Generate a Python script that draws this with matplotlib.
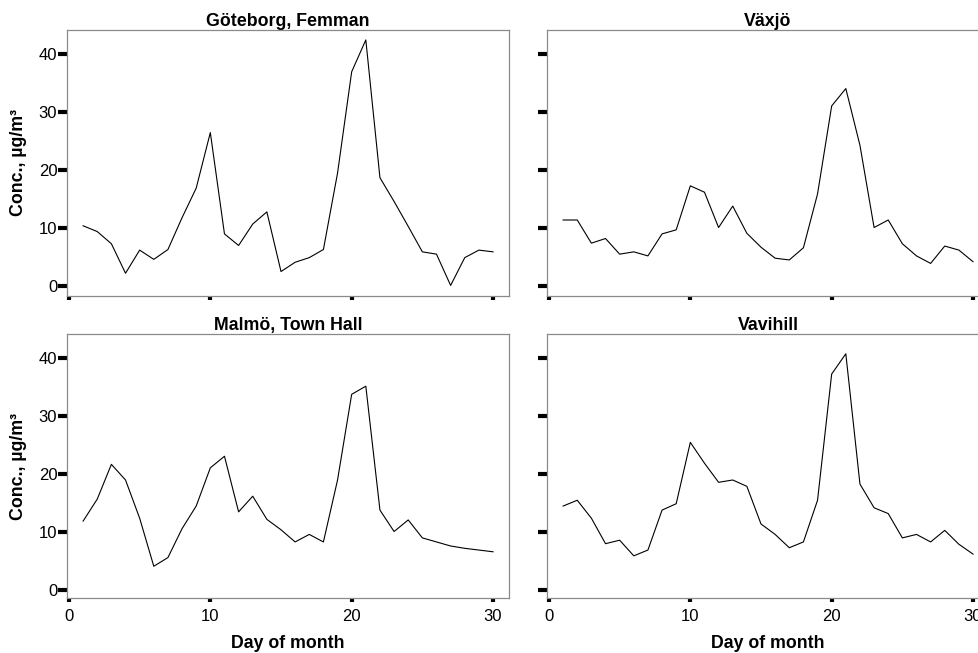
import matplotlib
matplotlib.use("Agg")
import matplotlib.pyplot as plt

plt.rcParams['font.family'] = ['Liberation Sans', 'DejaVu Sans']

# daily mean concentrations, day 1..30
days = list(range(1, 31))

goteborg = [10.4, 9.4, 7.3, 2.2, 6.2, 4.6, 6.3, 11.8, 16.9, 26.5,
            9.0, 7.0, 10.7, 12.8, 2.5, 4.1, 4.9, 6.3, 19.5, 37.0,
            42.5, 18.7, 14.6, 10.3, 5.9, 5.5, 0.1, 4.9, 6.2, 5.9]

vaxjo = [11.4, 11.4, 7.4, 8.2, 5.5, 5.9, 5.2, 9.0, 9.7, 17.3,
         16.2, 10.1, 13.8, 9.1, 6.7, 4.8, 4.5, 6.6, 15.9, 31.1,
         34.1, 24.3, 10.1, 11.4, 7.3, 5.2, 3.9, 6.9, 6.2, 4.2]

malmo = [11.9, 15.7, 21.7, 19.0, 12.4, 4.1, 5.6, 10.6, 14.5, 21.1,
         23.1, 13.5, 16.2, 12.2, 10.4, 8.3, 9.6, 8.3, 19.0, 33.8,
         35.2, 13.8, 10.1, 12.1, 9.0, 8.3, 7.6, 7.2, 6.9, 6.6]

vavihill = [14.5, 15.5, 12.4, 8.0, 8.6, 5.9, 6.9, 13.8, 14.9, 25.5,
            21.9, 18.6, 19.0, 17.9, 11.4, 9.6, 7.3, 8.3, 15.5, 37.3,
            40.8, 18.3, 14.2, 13.2, 9.0, 9.6, 8.3, 10.3, 7.9, 6.2]

stations = ["Göteborg, Femman", "Växjö", "Malmö, Town Hall", "Vavihill"]
series = [goteborg, vaxjo, malmo, vavihill]

W, H = 979, 653
fig = plt.figure(figsize=(W / 100, H / 100), dpi=100)

# panel boxes in pixels: left, top, right, bottom
boxes = [(67, 30, 509, 296), (547, 30, 989, 296),
         (67, 334, 509, 598), (547, 334, 989, 598)]
zero_px = [286, 286, 590, 590]
px_per_unit = 5.79

for i, (name, vals) in enumerate(zip(stations, series)):
    l, t, r, b = boxes[i]
    ax = fig.add_axes([l / W, 1 - b / H, (r - l) / W, (b - t) / H])
    ax.plot(days, vals, color='black', lw=0.8)
    ax.set_xlim(-0.14, 31.13)
    ax.set_ylim(-(b - zero_px[i]) / px_per_unit, (zero_px[i] - t) / px_per_unit)
    ax.set_xticks([0, 10, 20, 30])
    ax.set_yticks([0, 10, 20, 30, 40])
    for s in ax.spines.values():
        s.set_color('#8a8a8a')
        s.set_linewidth(0.9)
    ax.tick_params(axis='y', direction='out', length=6.5, width=3, color='black',
                   pad=0.5, labelsize=12)
    ax.tick_params(axis='x', direction='out', length=3, width=3, color='black',
                   pad=5, labelsize=12)
    ax.set_title(name, fontsize=12.8, fontweight='bold', pad=3)
    if i % 2 == 0:
        ax.set_ylabel("Conc., µg/m³", fontsize=12.8, fontweight='bold')
        ax.yaxis.set_label_coords(-0.09, 0.5)
    else:
        ax.tick_params(axis='y', labelleft=False)
    if i < 2:
        ax.tick_params(axis='x', labelbottom=False)
    else:
        ax.set_xlabel("Day of month", fontsize=12.8, fontweight='bold')
        ax.xaxis.set_label_coords(0.5, -0.14)
        ax.xaxis.label.set_va('top')

fig.savefig("out.png", dpi=100)
